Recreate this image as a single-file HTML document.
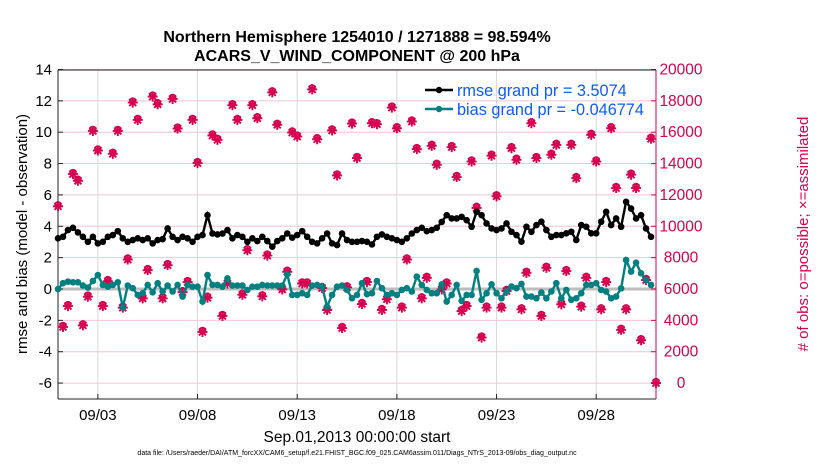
<!DOCTYPE html>
<html><head><meta charset="utf-8">
<style>
html,body{margin:0;padding:0;background:#fff;}
svg{display:block;font-family:"Liberation Sans",Arial,sans-serif;}
</style></head>
<body>
<svg id="chart" width="830" height="470" viewBox="0 0 830 470">
<text x="357" y="42" text-anchor="middle" font-size="16" font-weight="bold">Northern Hemisphere 1254010 / 1271888 = 98.594%</text>
<text x="357" y="61" text-anchor="middle" font-size="16" font-weight="bold">ACARS_V_WIND_COMPONENT @ 200 hPa</text>
<g id="grid"></g>
<g id="axes"></g>
<g id="obs"></g>
<g id="lines"></g>
<g id="legend">
  <line x1="425" y1="90" x2="453" y2="90" stroke="#000" stroke-width="2.5"/>
  <circle cx="439" cy="90" r="3.2" fill="#000"/>
  <text x="457" y="96" font-size="16.3" fill="#0a5cff">rmse grand pr = 3.5074</text>
  <line x1="425" y1="109" x2="453" y2="109" stroke="#008080" stroke-width="2.5"/>
  <circle cx="439" cy="109" r="3.2" fill="#008080"/>
  <text x="457" y="115" font-size="16.3" fill="#0a5cff">bias grand pr = -0.046774</text>
</g>
<text transform="translate(27,234) rotate(-90)" text-anchor="middle" font-size="15">rmse and bias (model - observation)</text>
<text transform="translate(808,234) rotate(-90)" text-anchor="middle" font-size="15" fill="#d6004f"># of obs: o=possible; ×=assimilated</text>
<text x="357" y="442" text-anchor="middle" font-size="15.5">Sep.01,2013 00:00:00 start</text>
<text x="357" y="455" text-anchor="middle" font-size="7">data file: /Users/raeder/DAI/ATM_forcXX/CAM6_setup/f.e21.FHIST_BGC.f09_025.CAM6assim.011/Diags_NTrS_2013-09/obs_diag_output.nc</text>
</svg>
<script>
const leftTicks = [14,12,10,8,6,4,2,0,-2,-4,-6];
const rightTicks = [20000,18000,16000,14000,12000,10000,8000,6000,4000,2000,0];
const dateTicks = [2,7,12,17,22,27];
const dateLabels = ["09/03","09/08","09/13","09/18","09/23","09/28"];
const rmse = [3.23,3.33,3.76,3.90,3.61,3.33,3.01,3.33,2.91,3.01,3.33,3.44,3.69,3.23,3.01,3.12,3.23,3.12,3.23,2.91,3.12,3.18,3.86,3.33,3.12,3.33,3.23,3.01,3.33,3.44,
4.71,3.54,3.48,3.54,3.76,3.23,3.44,3.33,3.01,3.23,3.06,3.33,3.06,2.70,3.06,3.23,3.54,3.27,3.44,3.69,3.33,3.01,2.91,3.23,3.54,2.91,2.80,3.54,3.12,3.01,
3.01,3.06,3.01,2.84,3.33,3.48,3.33,3.23,3.12,3.01,3.23,3.54,3.76,3.90,3.69,3.76,3.90,4.28,4.71,4.50,4.50,4.60,4.39,3.97,4.92,4.71,4.18,3.86,3.76,3.86,
4.18,3.65,3.44,3.02,3.97,3.65,4.08,4.29,3.76,3.33,3.44,3.44,3.55,3.65,3.12,4.08,3.97,3.55,3.55,4.29,4.92,4.08,4.50,3.97,5.56,5.13,4.50,4.71,3.86,3.33];
const bias = [0,0.37,0.47,0.43,0.43,0.22,0.09,0.51,0.89,0.26,0.15,0.26,0.43,-1.18,0.22,0.05,-0.38,-0.27,0.26,-0.21,0.37,-0.16,0.22,-0.16,0.26,-0.48,0.26,0.15,0.15,-0.8,
0.89,0.26,0.26,0.15,0.68,0.22,0.22,0.22,-0.06,0.15,0.15,0.26,0.22,0.22,0.22,0.22,0.94,-0.38,-0.38,-0.27,-0.38,0.22,0.26,0.15,-1.12,-0.38,0.15,0.22,-0.06,-0.59,
-0.38,0.37,-0.33,-0.27,0.51,0.05,-0.38,-0.27,-0.38,-0.06,0.05,-0.16,0.79,0.26,-0.06,-0.27,-0.27,0.30,-0.8,-0.38,0.26,-0.76,-0.38,-0.38,1.15,-0.69,-0.27,0.30,-0.27,-0.59,
-0.16,0.16,0.05,0.32,-0.48,-0.48,-0.59,-0.23,-0.59,-0.16,0.37,-0.59,-0.06,-0.69,-0.59,-0.27,0.26,0.26,0.37,-0.06,-0.16,-0.59,-0.48,0.04,1.85,1.11,1.68,1.0,0.58,0.26];
const obsCount = [11270,3580,4910,13330,12900,3680,5510,16080,14830,4910,6500,14620,16080,4810,7880,17890,16780,5400,7200,18270,17780,5400,7520,18120,16230,5800,6440,16780,14030,3260,
5440,15790,15510,4280,6350,17720,16780,5630,8470,17720,16890,5530,8130,18540,16470,5970,7100,15980,15720,6350,6350,18730,15550,6060,4660,16110,13240,3510,6100,16550,
14350,5040,6440,16570,16510,4660,5340,17570,16250,4810,7880,16680,14920,5400,6710,15130,13920,5970,6350,15050,13140,4590,4910,14130,11170,2900,4810,14500,11910,4810,
5870,14980,14240,4700,7030,16570,14350,4280,7350,14560,15190,5020,7140,15190,13070,4870,6710,15830,14130,4700,6440,16250,12440,3390,4700,13290,12440,2730,6570,15580,0];

const X0=58, X1=656, Y0=70, Y1=399;
function xs(d){ return X0 + d*(X1-X0)/30; }
function yl(v){ return 289 - v*15.68; }
function yr(c){ return yl(c/1000 - 6); }
const NS="http://www.w3.org/2000/svg";
function mk(tag, attrs, parent){ const e=document.createElementNS(NS,tag); for(const k in attrs) e.setAttribute(k,attrs[k]); parent.appendChild(e); return e; }
const grid=document.getElementById('grid'), axes=document.getElementById('axes'), obs=document.getElementById('obs'), lines=document.getElementById('lines');

mk('rect',{x:X0,y:Y0,width:X1-X0,height:Y1-Y0,fill:'#fff'},grid);
leftTicks.forEach(v=>{
  const g=mk('line',{x1:X0,x2:X1,y1:yl(v),y2:yl(v),stroke:'#f2c4d4','stroke-width':1},grid);
  
  
  mk('line',{x1:X0,x2:X0+5,y1:yl(v),y2:yl(v),stroke:'#222'},axes);
  const t=mk('text',{x:X0-6,y:yl(v)+5,'text-anchor':'end','font-size':15},axes);
  t.textContent=v;
  
  
});
rightTicks.forEach(c=>{
  mk('line',{x1:X1-5,x2:X1,y1:yr(c),y2:yr(c),stroke:'#d6004f'},axes);
  const t=mk('text',{x:X1+25,y:yr(c)+5,'text-anchor':'middle','font-size':15.5,fill:'#d6004f'},axes);
  t.textContent=c;
  
  
});
dateTicks.forEach((d,i)=>{
  const g=mk('line',{x1:xs(d),x2:xs(d),y1:Y0,y2:Y1,stroke:'#d8d8d8'},grid);
  
  
  mk('line',{x1:xs(d),x2:xs(d),y1:Y1-5,y2:Y1,stroke:'#222'},axes);
  const t=mk('text',{x:xs(d),y:420,'text-anchor':'middle','font-size':15},axes);
  t.textContent=dateLabels[i];
  
  
});
const zl=mk('line',{x1:X0,x2:X1,y1:yl(0),y2:yl(0),stroke:'#bdbdbd','stroke-width':3},grid);


mk('line',{x1:X0,x2:X0,y1:Y0,y2:Y1,stroke:'#222'},axes);
mk('line',{x1:X0,x2:X1,y1:Y1,y2:Y1,stroke:'#222'},axes);
mk('line',{x1:X0,x2:X1,y1:Y0,y2:Y0,stroke:'#222'},axes);
mk('line',{x1:X1,x2:X1,y1:Y0,y2:Y1,stroke:'#d6004f'},axes);

obsCount.forEach((c,i)=>{
  const x=xs(i*0.25), y=yr(c);
  const g=mk('g',{stroke:'#d6004f','stroke-width':1.9,fill:'none'},obs);
  
  
  mk('circle',{cx:x,cy:y-1.5,r:2.8},g);
  mk('path',{d:`M${x-5} ${y}H${x+5}M${x} ${y-5}V${y+5}M${x-3.5} ${y-3.5}L${x+3.5} ${y+3.5}M${x-3.5} ${y+3.5}L${x+3.5} ${y-3.5}`},g);
});

function series(vals,color,name){
  const p=mk('polyline',{points:vals.map((v,i)=>xs(i*0.25)+','+yl(v)).join(' '),fill:'none',stroke:color,'stroke-width':2.4},lines);
  
  
  vals.forEach((v,i)=>{
    const c=mk('circle',{cx:xs(i*0.25),cy:yl(v),r:3.3,fill:color},lines);
    
    
  });
}
series(bias,'#008080','bias');
series(rmse,'#000000','rmse');
</script>
</body></html>
